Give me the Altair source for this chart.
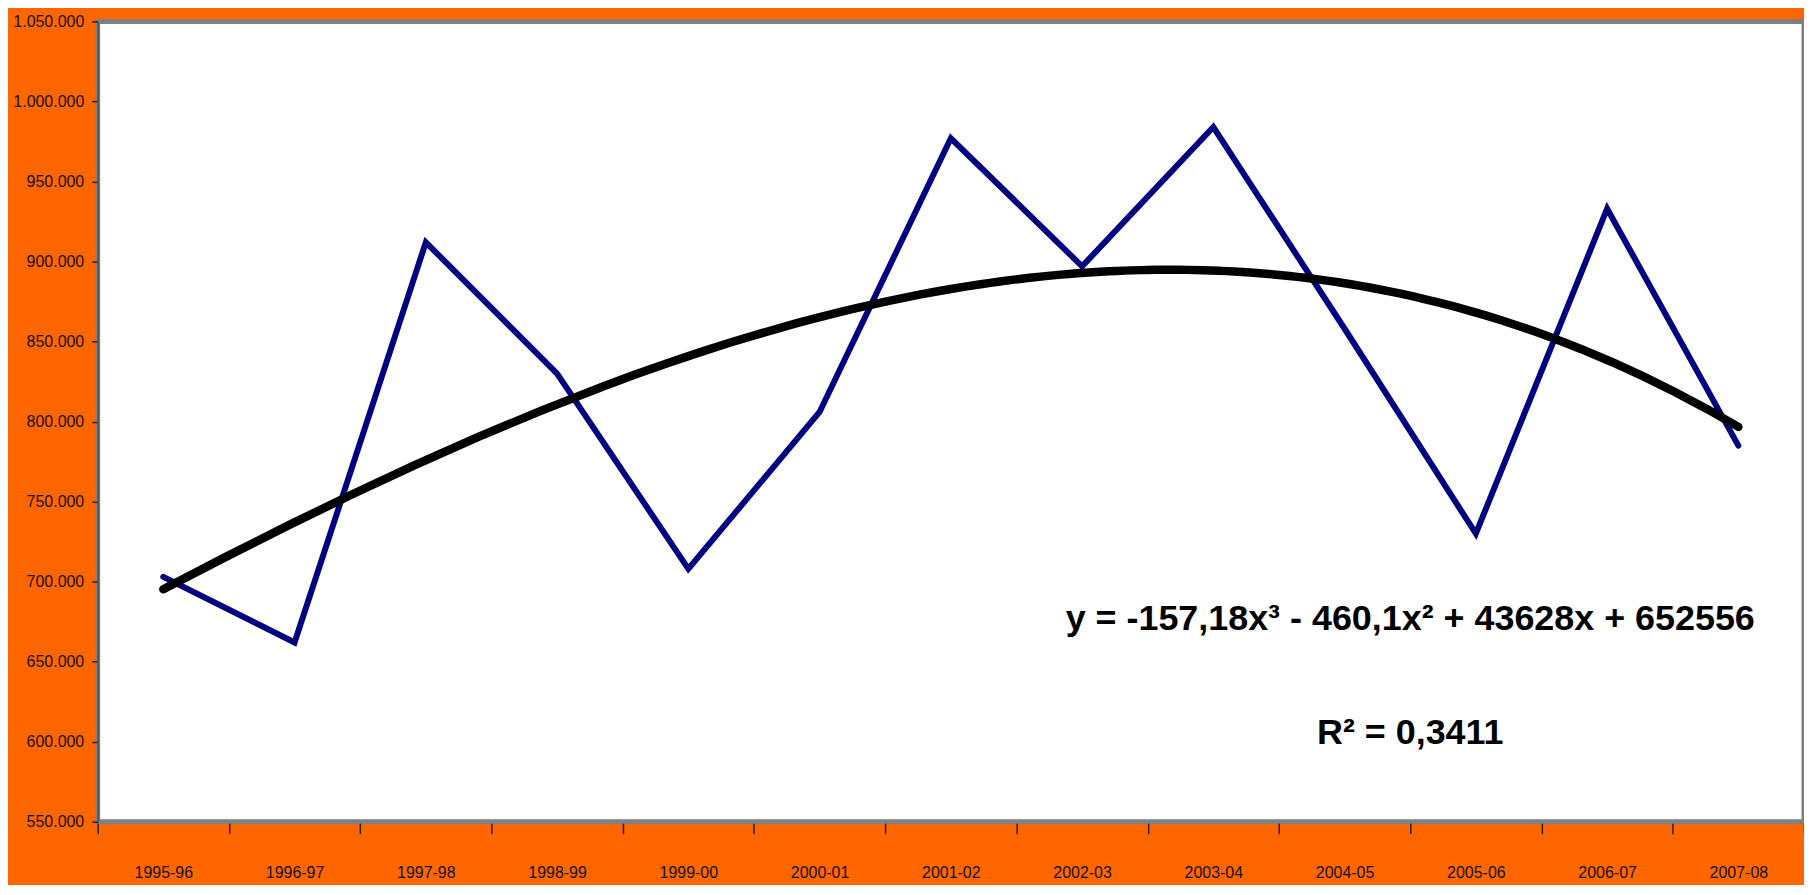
import altair as alt
import pandas as pd

seasons = ["1995-96", "1996-97", "1997-98", "1998-99", "1999-00", "2000-01", "2001-02",
           "2002-03", "2003-04", "2004-05", "2005-06", "2006-07", "2007-08"]
values = [703000, 662000, 912000, 830000, 708000, 806000, 977000,
          897000, 984000, 858000, 730000, 933000, 785000]
y_ticks = [550000, 600000, 650000, 700000, 750000, 800000, 850000, 900000, 950000, 1000000, 1050000]
equation_text = "y = -157,18x³ - 460,1x² + 43628x + 652556"
r2_text = "R² = 0,3411"

df = pd.DataFrame({"idx": list(range(1, len(seasons) + 1)), "season": seasons, "v": values})

FONT = "Liberation Sans, Arial, sans-serif"

label_array = "[" + ",".join("'" + s + "'" for s in seasons) + "]"
x_vals = [i / 2 for i in range(1, 2 * len(seasons) + 2)]

x_scale = alt.Scale(domain=[0.5, len(seasons) + 0.5], nice=False, zero=False)
y_scale = alt.Scale(domain=[550000, 1050000], nice=False, zero=False)

x_axis = alt.Axis(
    values=x_vals,
    labelExpr=f"datum.value % 1 == 0 ? {label_array}[datum.value - 1] : ''",
    tickOpacity={"condition": {"test": "datum.value % 1 != 0", "value": 1}, "value": 0},
    labelOverlap=False, labelFlush=False, labelBound=False,
    title=None, grid=False,
    domainColor="#808080", domainWidth=3,
    tickColor="#222222", tickWidth=1.5, tickSize=12,
    labelFont=FONT, labelFontSize=16, labelColor="#111111", labelPadding=31,
)
y_axis = alt.Axis(
    values=y_ticks,
    labelExpr="replace(format(datum.value, ',d'), regexp(',', 'g'), '.')",
    title=None, grid=False,
    domainColor="#555555", domainWidth=2,
    tickColor="#222222", tickWidth=1.5, tickSize=6,
    labelFont=FONT, labelFontSize=16, labelColor="#111111", labelPadding=8,
)

base = alt.Chart(df)

data_line = base.mark_line(color="#000080", strokeWidth=6, strokeJoin="miter", strokeCap="round").encode(
    x=alt.X("idx:Q", scale=x_scale, axis=x_axis),
    y=alt.Y("v:Q", scale=y_scale, axis=y_axis),
)

trend = base.transform_regression("idx", "v", method="poly", order=3).mark_line(
    color="#000000", strokeWidth=8.5, strokeCap="round"
).encode(
    x=alt.X("idx:Q", scale=x_scale),
    y=alt.Y("v:Q", scale=y_scale),
)

one = alt.Data(values=[{"k": 0}])
eq = alt.Chart(one).mark_text(
    text=equation_text, font=FONT, fontSize=36, fontWeight="bold", color="#000000",
    align="center", baseline="alphabetic"
).encode(x=alt.datum(10.5), y=alt.datum(670000))

r2 = alt.Chart(one).mark_text(
    text=r2_text, font=FONT, fontSize=36, fontWeight="bold", color="#000000",
    align="center", baseline="alphabetic"
).encode(x=alt.datum(10.5), y=alt.datum(598500))

chart = alt.layer(data_line, trend, eq, r2).properties(
    width=1712, height=803,
    autosize=alt.AutoSizeParams(type="none"),
    padding={"left": 90, "top": 12, "right": 0, "bottom": 62},
    background="#ff6600",
).configure_view(
    fill="#ffffff", stroke="#808080", strokeWidth=5
)

chart.save("out.html", embed_options={"renderer": "svg", "actions": False})
